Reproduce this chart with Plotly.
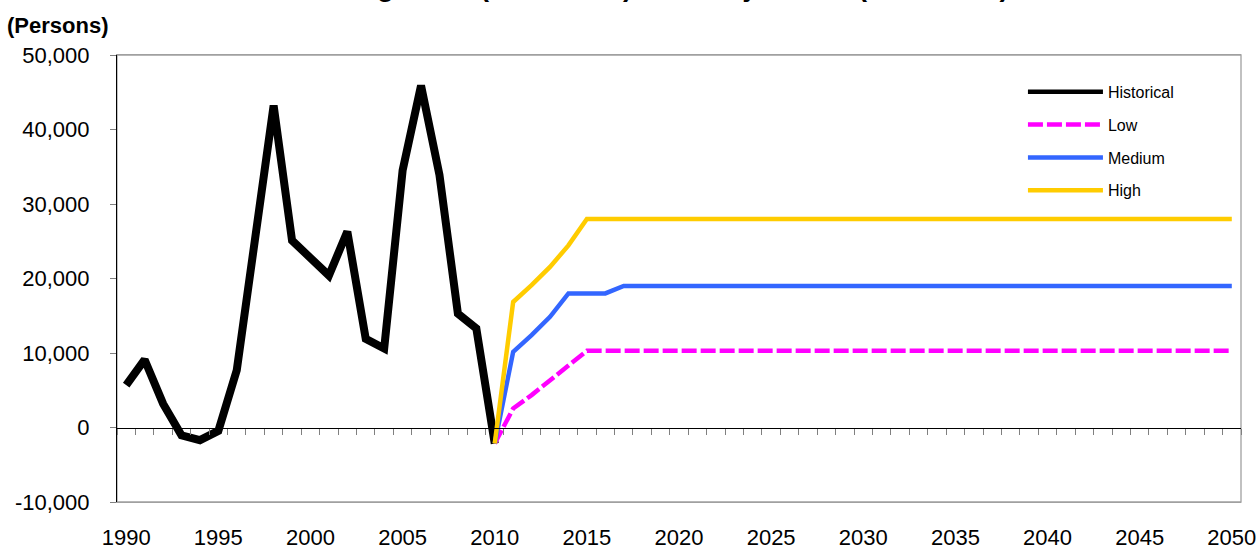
import plotly.graph_objects as go

hist_years = list(range(1990, 2011))
hist_values = [5680, 9100, 3200, -1050, -1700, -450, 7700, 26000, 43200, 25100,
               22700, 20400, 26300, 11900, 10600, 34500, 45900, 33900, 15300, 13300, -2150]

proj_years = list(range(2010, 2051))
low_values = [-2150, 2550, 4350, 6350, 8350, 10300] + [10300] * 35
medium_values = [-2150, 10150, 12400, 14850, 18000, 18000, 18000] + [19000] * 34
high_values = [-2150, 16850, 19100, 21550, 24450, 28000] + [28000] * 35

label_years = list(range(1990, 2051, 5))
y_ticks = [-10000, 0, 10000, 20000, 30000, 40000, 50000]

FONT = "Liberation Sans, Arial, sans-serif"

fig = go.Figure()
fig.add_trace(go.Scatter(x=hist_years, y=hist_values, name="Historical", mode="lines",
                         line=dict(color="#000000", width=8), showlegend=False))
# legend proxy for the historical series (thinner sample line as in the reference)
fig.add_trace(go.Scatter(x=[None], y=[None], name="Historical", mode="lines",
                         line=dict(color="#000000", width=4.5), legendgroup="a"))
fig.add_trace(go.Scatter(x=proj_years, y=low_values, name="Low", mode="lines",
                         line=dict(color="#FF00FF", width=4.5, dash="15px,4px"), legendgroup="b"))
fig.add_trace(go.Scatter(x=proj_years, y=medium_values, name="Medium", mode="lines",
                         line=dict(color="#3366FF", width=4.5), legendgroup="c"))
fig.add_trace(go.Scatter(x=proj_years, y=high_values, name="High", mode="lines",
                         line=dict(color="#FFCC00", width=4.5), legendgroup="d"))
# invisible trace to attach the zero-line axis
fig.add_trace(go.Scatter(x=[hist_years[0]], y=[0], xaxis="x2", mode="markers",
                         marker=dict(opacity=0), showlegend=False, hoverinfo="skip"))

xr = [hist_years[0] - 0.5, proj_years[-1] + 0.5]
yr = [y_ticks[0], y_ticks[-1]]
zero_pos = (0 - yr[0]) / (yr[1] - yr[0])
boundaries = [yy - 0.5 for yy in range(hist_years[0], proj_years[-1] + 2)]

fig.update_layout(
    width=1259, height=548,
    margin=dict(l=117, r=18, t=55, b=46, autoexpand=False),
    paper_bgcolor="white", plot_bgcolor="white",
    font=dict(family=FONT, size=22, color="black"),
    showlegend=True,
    legend=dict(x=0.806, y=0.9555, xanchor="left", yanchor="top",
                font=dict(family=FONT, size=16, color="black"),
                itemwidth=75, tracegroupgap=9, bgcolor="rgba(0,0,0,0)"),
    xaxis=dict(range=xr, tickmode="array", tickvals=label_years,
               ticktext=[str(v) for v in label_years], ticks="", showgrid=False,
               zeroline=False, showline=True, linecolor="#A0A0A0", linewidth=1.3,
               mirror=True, ticklabelstandoff=15, automargin=False),
    xaxis2=dict(range=xr, overlaying="x", anchor="free", position=zero_pos,
                tickmode="array", tickvals=boundaries,
                showticklabels=False, ticks="outside", ticklen=6, tickcolor="#808080",
                showline=True, linecolor="black", linewidth=1.2, showgrid=False,
                zeroline=False, automargin=False),
    yaxis=dict(range=yr, tickmode="array", tickvals=y_ticks,
               ticktext=[f"{v:,}" for v in y_ticks], ticks="outside", ticklen=6,
               tickcolor="#808080", showline=True, linecolor="black", linewidth=1.2,
               showgrid=False, zeroline=False, ticklabelstandoff=16, automargin=False),
    shapes=[dict(type="rect", xref="paper", yref="paper", x0=0, x1=1, y0=0, y1=1,
                 line=dict(color="#A0A0A0", width=1.3), layer="below")],
    annotations=[
        dict(text="<b>(Persons)</b>", xref="paper", yref="paper", x=0, y=1,
             xanchor="left", yanchor="middle", xshift=-112, yshift=30,
             showarrow=False, font=dict(family=FONT, size=22, color="black")),
        dict(text="<b>Net Migration (1990-2010) and Projections (2011-2050)</b>",
             xref="paper", yref="paper", x=0.475, y=1, xanchor="center",
             yanchor="bottom", yshift=51, showarrow=False,
             font=dict(family=FONT, size=28, color="black")),
    ],
)

fig.write_html("out.html", post_script="document.body.style.margin='0';",
               config={"displayModeBar": False})
